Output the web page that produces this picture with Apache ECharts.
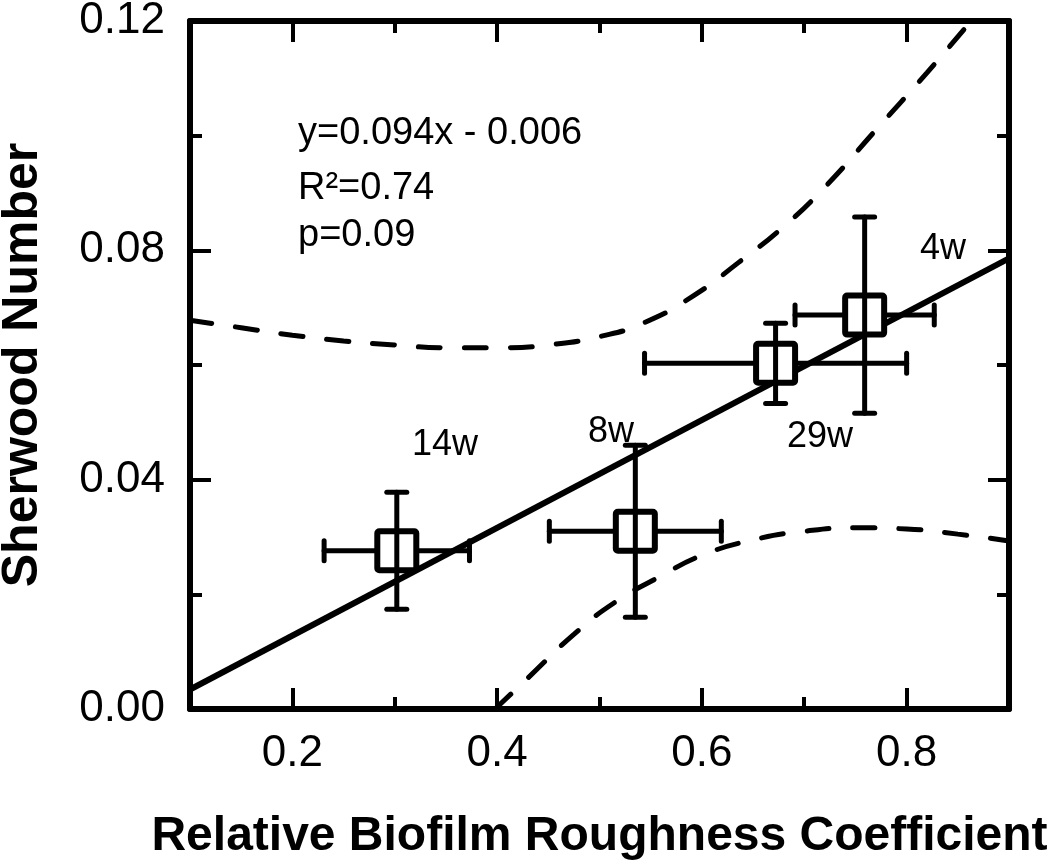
<!DOCTYPE html>
<html><head><meta charset="utf-8">
<script src="https://cdn.jsdelivr.net/npm/echarts@6/dist/echarts.min.js"></script>
<style>html,body{margin:0;padding:0;background:#fff}#c{width:1050px;height:865px}</style>
</head><body><div id="c"></div>
<script>
// ---- data ----
const groups = ['14w', '8w', '29w', '4w'];
const roughness = [0.302, 0.535, 0.672, 0.759];
const roughnessErr = [0.071, 0.084, 0.128, 0.068];
const sherwood = [0.0276, 0.031, 0.0603, 0.0687];
const sherwoodErr = [0.0102, 0.015, 0.007, 0.0171];

const fitX = [0.1, 0.9];
const fitY = [0.0034, 0.0786];

const upperBandX = [0.1, 0.15, 0.2, 0.25, 0.3, 0.35, 0.4, 0.45, 0.501, 0.544, 0.592, 0.636, 0.679, 0.72, 0.77, 0.82, 0.863];
const upperBandY = [0.0678, 0.0665, 0.0652, 0.0642, 0.0635, 0.063, 0.063, 0.0635, 0.065, 0.0674, 0.0721, 0.0779, 0.084, 0.091, 0.101, 0.111, 0.12];
const lowerBandX = [0.398, 0.43, 0.4755, 0.515, 0.56, 0.6, 0.65, 0.7, 0.75, 0.8, 0.85, 0.9];
const lowerBandY = [0.0, 0.0054, 0.0131, 0.0186, 0.0232, 0.0268, 0.0295, 0.031, 0.0316, 0.0314, 0.0305, 0.0293];

const xMajorTicks = [0.2, 0.4, 0.6, 0.8];
const xMinorTicks = [0.3, 0.5, 0.7];

const FONT = "'Liberation Sans', Arial, Helvetica, sans-serif";
const BLACK = '#000';

const chart = echarts.init(document.getElementById('c'), null, {renderer: 'canvas'});

function xAxisDef(pos, ticks, len, withLabel, withLine) {
  return {
    type: 'value', min: 0.1, max: 0.9, position: pos,
    axisLine: {show: withLine, onZero: false, lineStyle: {color: BLACK, width: 6}},
    axisTick: {show: true, inside: true, length: len, customValues: ticks, lineStyle: {color: BLACK, width: 4}},
    axisLabel: withLabel ? {show: true, customValues: ticks, formatter: v => v.toFixed(1), fontSize: 44, fontFamily: FONT, color: BLACK, margin: 23} : {show: false},
    splitLine: {show: false},
    minorTick: {show: false}
  };
}
function yAxisDef(pos, withLabel) {
  return {
    type: 'value', min: 0, max: 0.12, interval: 0.04, position: pos,
    axisLine: {show: true, onZero: false, lineStyle: {color: BLACK, width: 6}},
    axisTick: {show: true, inside: true, length: 21, lineStyle: {color: BLACK, width: 4}},
    minorTick: {show: true, splitNumber: 2, length: 12, lineStyle: {color: BLACK, width: 4}},
    axisLabel: withLabel ? {show: true, formatter: v => v.toFixed(2), fontSize: 44, fontFamily: FONT, color: BLACK, margin: 25} : {show: false},
    splitLine: {show: false}
  };
}

const xBottom = xAxisDef('bottom', xMajorTicks, 21, true, true);
xBottom.name = 'Relative Biofilm Roughness Coefficient';
xBottom.nameLocation = 'middle';
xBottom.nameGap = 104;
xBottom.nameTextStyle = {fontSize: 48, fontWeight: 'bold', fontFamily: FONT, color: BLACK};

const yLeft = yAxisDef('left', true);
yLeft.name = 'Sherwood Number';
yLeft.nameLocation = 'middle';
yLeft.nameGap = 142;
yLeft.nameTextStyle = {fontSize: 50, fontWeight: 'bold', fontFamily: FONT, color: BLACK};

const pointData = roughness.map((x, i) => [x, sherwood[i], roughnessErr[i], sherwoodErr[i]]);

function renderPoint(params, api) {
  const x = api.value(0), y = api.value(1), ex = api.value(2), ey = api.value(3);
  const c = api.coord([x, y]);
  const l = api.coord([x - ex, y]);
  const r = api.coord([x + ex, y]);
  const t = api.coord([x, y + ey]);
  const b = api.coord([x, y - ey]);
  const cap = 10, half = 19.5;
  const st = {stroke: BLACK, lineWidth: 5, lineCap: 'round'};
  return {
    type: 'group',
    children: [
      {type: 'line', shape: {x1: l[0], y1: c[1], x2: r[0], y2: c[1]}, style: st},
      {type: 'line', shape: {x1: l[0], y1: c[1] - cap, x2: l[0], y2: c[1] + cap}, style: st},
      {type: 'line', shape: {x1: r[0], y1: c[1] - cap, x2: r[0], y2: c[1] + cap}, style: st},
      {type: 'rect', shape: {x: c[0] - half, y: c[1] - half, width: 2 * half, height: 2 * half, r: 2},
        style: {fill: '#fff', stroke: BLACK, lineWidth: 6, lineJoin: 'round'}},
      {type: 'line', shape: {x1: c[0], y1: t[1], x2: c[0], y2: b[1]}, style: st},
      {type: 'line', shape: {x1: c[0] - cap, y1: t[1], x2: c[0] + cap, y2: t[1]}, style: st},
      {type: 'line', shape: {x1: c[0] - cap, y1: b[1], x2: c[0] + cap, y2: b[1]}, style: st}
    ]
  };
}

const labelPx = [[445, 445], [611, 432], [820, 437], [943, 249]];
const annot = [
  {text: 'y=0.094x - 0.006', y: 134},
  {text: 'R\u00B2=0.74', y: 189},
  {text: 'p=0.09', y: 236}
];

const graphics = [];
annot.forEach(a => graphics.push({
  type: 'text', x: 298, y: a.y, z: 10,
  style: {text: a.text, font: '38px ' + FONT, fill: BLACK, align: 'left', verticalAlign: 'middle'}
}));
groups.forEach((g, i) => graphics.push({
  type: 'text', x: labelPx[i][0], y: labelPx[i][1], z: 10,
  style: {text: g, font: '36px ' + FONT, fill: BLACK, align: 'center', verticalAlign: 'middle'}
}));

chart.setOption({
  backgroundColor: '#fff',
  animation: false,
  grid: {left: 190, right: 41, top: 21, bottom: 156, containLabel: false, outerBoundsMode: 'none'},
  xAxis: [
    xBottom,
    xAxisDef('bottom', xMinorTicks, 12, false, false),
    xAxisDef('top', xMajorTicks, 21, false, true),
    xAxisDef('top', xMinorTicks, 12, false, false)
  ],
  yAxis: [yLeft, yAxisDef('right', false)],
  series: [
    {
      name: 'fit', type: 'line', xAxisIndex: 0, yAxisIndex: 0, z: 2,
      data: fitX.map((x, i) => [x, fitY[i]]),
      showSymbol: false, symbol: 'none',
      lineStyle: {color: BLACK, width: 6}
    },
    {
      name: 'upper', type: 'line', xAxisIndex: 0, yAxisIndex: 0, z: 2, smooth: true, clip: true,
      data: upperBandX.map((x, i) => [x, upperBandY[i]]),
      showSymbol: false, symbol: 'none',
      lineStyle: {color: BLACK, width: 5, type: [22, 24], cap: 'round'}
    },
    {
      name: 'lower', type: 'line', xAxisIndex: 0, yAxisIndex: 0, z: 2, smooth: true, clip: true,
      data: lowerBandX.map((x, i) => [x, lowerBandY[i]]),
      showSymbol: false, symbol: 'none',
      lineStyle: {color: BLACK, width: 5, type: [22, 24], cap: 'round'}
    },
    {
      name: 'points', type: 'custom', xAxisIndex: 0, yAxisIndex: 0, z: 5,
      renderItem: renderPoint,
      data: pointData
    }
  ],
  graphic: graphics
});
</script>
</body></html>
